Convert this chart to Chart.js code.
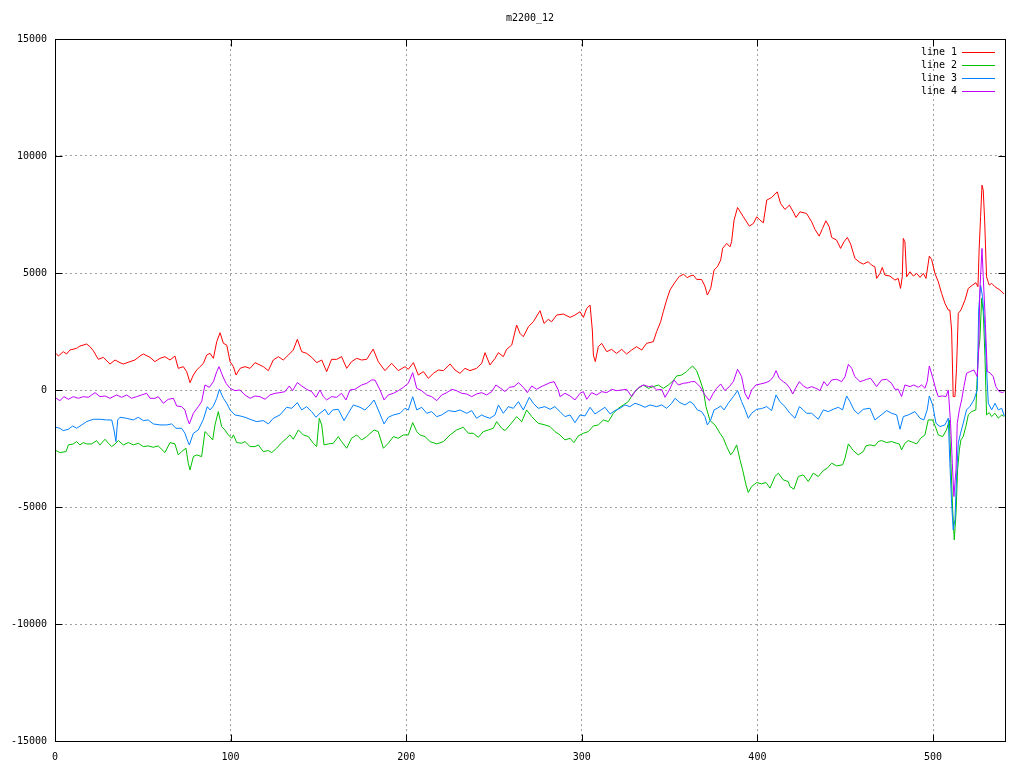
<!DOCTYPE html>
<html>
<head>
<meta charset="utf-8">
<script src="https://cdn.jsdelivr.net/npm/chart.js@4.4.1/dist/chart.umd.min.js"></script>
<style>
  html, body { margin: 0; padding: 0; background: #fff; }
  canvas { display: block; }
</style>
</head>
<body>
<canvas id="plot" width="1024" height="768"></canvas>
<script>
var title = 'm2200_12';
var seriesNames = ['line 1', 'line 2', 'line 3', 'line 4'];
var seriesColors = ['#ff0000', '#00c000', '#0080ff', '#c000ff'];
var xTicks = [0, 100, 200, 300, 400, 500];
var yTicks = [-15000, -10000, -5000, 0, 5000, 10000, 15000];
var xMax = 541;

// values, [x, y]
var line1 = [[0.6,1566],[1.9,1452],[4.7,1637],[6.6,1538],[8.5,1709],[12.3,1780],[14.2,1879],[18,1965],[19.9,1851],[21.8,1680],[24.7,1310],[27.5,1395],[31.3,1111],[34.2,1282],[37,1168],[38.9,1111],[42.7,1211],[45.5,1282],[48.4,1452],[50.3,1538],[54.1,1395],[56.9,1211],[59.8,1353],[62.6,1424],[65.5,1282],[68.3,1452],[70.2,926],[73.1,997],[75,784],[76.9,314],[78.8,641],[80.7,855],[82.6,997],[84.5,1139],[86.4,1495],[88.3,1566],[90.2,1353],[92.1,2064],[94,2448],[95.9,1993],[97.8,1922],[99.7,1211],[101.6,997],[103.1,641],[105.4,926],[108.2,997],[111.1,926],[113.9,1168],[116.7,1068],[118.6,997],[121.5,826],[124.3,1282],[127.2,1424],[130,1282],[132.9,1495],[135.7,1709],[138,2164],[140.5,1637],[143.3,1566],[146.2,1395],[149,1168],[151.9,1282],[154.7,784],[157.5,1310],[160.4,1310],[163.2,1424],[166.1,926],[168.9,1211],[171.8,1353],[174.6,1282],[177.5,1310],[181.2,1750],[184.1,1211],[187.9,826],[191.7,1139],[195.5,826],[199.3,997],[201.2,883],[204.1,1168],[206.9,641],[209.8,784],[212.6,499],[215.5,712],[218.3,855],[221.2,826],[225,1111],[227.8,855],[230.6,712],[233.5,926],[236.3,826],[240.1,926],[243,1139],[244.9,1595],[247.7,1068],[250.6,1353],[252.5,1595],[255.3,1424],[257.2,1737],[260.1,1922],[262.9,2776],[264.8,2420],[266.7,2278],[269.6,2705],[272.4,2918],[276.2,3388],[278.5,2847],[280.9,3018],[282.8,2918],[285.7,3203],[289.5,3246],[293.3,3103],[296.1,3203],[299,3345],[300.9,3103],[302.8,3487],[304.7,3630],[306,2562],[306.6,1495],[307.7,1211],[309.4,1851],[311.3,1993],[314.2,1638],[317,1737],[319.8,1566],[322.7,1737],[325.5,1538],[328.4,1709],[331.2,1851],[334.1,1709],[336.9,1993],[340.7,2064],[342.6,2491],[344.9,2918],[346.4,3345],[348.3,3843],[350.2,4270],[353,4600],[355.5,4850],[358,4950],[360,4800],[361.6,4869],[363.5,4911],[365.4,4726],[368.2,4726],[370.1,4442],[371.5,4058],[373.4,4342],[375.3,5125],[377.2,5267],[379.1,5552],[380.2,6050],[382.5,6263],[384.4,6121],[385.3,6335],[386.7,7259],[388.7,7800],[392,7402],[395.4,7003],[397.7,7117],[399.6,7402],[401.5,7259],[403.4,7146],[405.3,8113],[408.1,8227],[411.3,8469],[413.2,7971],[415.7,7715],[418.2,7900],[420.4,7615],[422,7373],[424.2,7615],[428,7544],[430.9,7188],[432.8,6861],[435.2,6576],[437.1,6904],[439,7231],[440.9,6975],[442.3,6519],[445.1,6406],[447.4,6050],[449.3,6335],[451.2,6519],[453.1,6235],[455.5,5623],[458.4,5450],[460.3,5381],[463.1,5481],[465,5338],[466.9,5267],[467.9,4769],[469.8,4983],[471.1,5239],[472.6,4912],[475.5,4869],[478.3,4698],[480.2,4769],[481.5,4342],[482.5,4840],[483.1,6477],[484,6335],[485,4840],[486.9,5054],[488.8,4869],[490.7,4983],[492.6,4812],[494.5,4983],[496,4769],[497.9,5723],[499.2,5580],[501.1,4983],[503,4627],[504.9,4129],[506.8,3702],[508.7,3417],[509.6,3417],[510.6,2564],[511.5,-282],[512.5,-282],[513.4,927],[514.4,3275],[515.9,3417],[518.2,3844],[520.1,4342],[522.5,4485],[524.4,4584],[525.6,4413],[526.3,6050],[527.1,7402],[527.9,8754],[528.6,8540],[529.4,7260],[530.5,4840],[532,4485],[533.4,4556],[535.3,4413],[538.1,4271],[540.4,4100]];

var line2 = [[0.6,-2589],[2.8,-2674],[6.3,-2632],[7.6,-2347],[10.4,-2304],[12.3,-2205],[14.2,-2347],[16.1,-2247],[18,-2304],[20.9,-2304],[23.7,-2162],[25.6,-2347],[28.5,-2105],[30.4,-2276],[32.3,-2418],[34.2,-2304],[36.1,-2162],[38.9,-2347],[41.8,-2247],[44.6,-2347],[47.4,-2276],[50.3,-2418],[53.1,-2390],[56,-2447],[58.8,-2390],[62.6,-2674],[65.5,-2247],[68.3,-2304],[70.2,-2774],[72.1,-2632],[74.6,-2489],[75.9,-3130],[76.9,-3414],[78.8,-2845],[80.7,-2774],[83.5,-2845],[85.4,-1778],[87.3,-1920],[89.8,-2134],[91.1,-1493],[93,-924],[94.9,-1564],[96.8,-1707],[98.7,-1920],[100.6,-2062],[101.6,-1920],[103.5,-2247],[106.3,-2276],[108.2,-2205],[111.1,-2418],[113.9,-2418],[115.8,-2347],[118.6,-2632],[121.5,-2589],[123.4,-2674],[126.2,-2489],[129.1,-2247],[131.9,-2062],[133.8,-1920],[135.7,-2105],[138.6,-1707],[141.4,-1920],[144.3,-1991],[147.1,-2276],[149,-2418],[150.5,-1209],[151.9,-1493],[153.2,-2347],[155.7,-2304],[158.5,-2276],[161.3,-1991],[163.2,-2205],[166.1,-2489],[168.9,-2062],[171.8,-1920],[174.6,-2134],[177.5,-1991],[181.7,-1707],[184.1,-1778],[187,-2489],[189.8,-2276],[192.7,-1991],[195.5,-2062],[198.4,-1920],[201.2,-1920],[203.7,-1394],[206,-1778],[207.9,-1920],[210.7,-1991],[213.6,-2205],[217.4,-2304],[221.2,-2205],[225,-1920],[228.7,-1707],[232.5,-1593],[235.4,-1849],[238.2,-1849],[241.1,-2020],[243.9,-1778],[246.8,-1707],[249.6,-1636],[251.5,-1351],[254.4,-1636],[256.3,-1735],[259.1,-1493],[262.9,-1138],[265.8,-1351],[268.6,-853],[271.5,-1138],[275.2,-1422],[279,-1493],[281.9,-1564],[284.7,-1778],[287.6,-1920],[290.4,-2134],[293.3,-2062],[295.5,-2247],[298,-1963],[300.9,-1849],[303.7,-1778],[306.6,-1536],[309.4,-1493],[312.3,-1280],[315.1,-1351],[318,-995],[320.8,-782],[323.6,-639],[326.5,-497],[329.3,-141],[332.2,72],[335,214],[337.9,72],[340.7,143],[343.6,214],[346.4,72],[349.3,214],[352.1,399],[354,599],[356.9,641],[359.7,784],[361.6,927],[363.1,1027],[365.4,828],[367.3,429],[369.2,2],[370.7,-709],[373,-1307],[375.8,-1492],[378.7,-1848],[380.6,-2061],[382.5,-2417],[384.8,-2773],[386.3,-2630],[388.2,-2346],[390.1,-2986],[391.6,-3413],[393.5,-4053],[394.8,-4380],[396.7,-4124],[399.6,-3954],[402.4,-4011],[404.9,-3954],[407.2,-4195],[410,-3697],[411.9,-3555],[414.7,-3840],[417.6,-3911],[418.5,-4124],[420.8,-4238],[423.3,-3697],[426.1,-3626],[429,-3911],[431.8,-3555],[434.7,-3697],[437.5,-3441],[439.8,-3342],[442.3,-3129],[445.1,-3242],[448.5,-3200],[449.9,-2915],[451.8,-2303],[454.6,-2588],[457.4,-2773],[460.3,-2630],[461.8,-2388],[464.1,-2346],[466.9,-2388],[468.8,-2203],[470.7,-2161],[473.6,-2246],[476.4,-2203],[479.3,-2275],[480.8,-2303],[482.1,-2559],[484,-2275],[485.9,-2161],[488.8,-2246],[490.7,-2303],[493,-2061],[495.4,-1919],[497.3,-1279],[499.8,-1279],[501.7,-1634],[503,-1919],[505.5,-1990],[507.7,-1705],[509.3,-1279],[510.2,-3128],[511.2,-5121],[512.1,-6401],[513.1,-5263],[514,-3413],[515,-2559],[515.9,-2132],[517.2,-1990],[518.7,-1563],[520.1,-1065],[522,-923],[524.4,-852],[525.8,1639],[526.7,2137],[527.7,3915],[528.6,3346],[529.6,1425],[530.5,-1065],[532,-966],[533.4,-1136],[535.3,-994],[537.2,-1207],[539.1,-1065],[540.6,-1136]];

var line3 = [[0.6,-1593],[2.8,-1636],[4.7,-1735],[7.6,-1678],[10.1,-1536],[12.3,-1636],[15.2,-1493],[18,-1351],[21.8,-1251],[25.6,-1251],[29.4,-1280],[32.3,-1280],[33.6,-1707],[34.7,-2205],[35.7,-1280],[37,-1166],[40.8,-1209],[44.6,-1280],[47.4,-1166],[50.3,-1308],[53.1,-1280],[56,-1450],[59.8,-1493],[63.6,-1493],[66.4,-1450],[68.9,-1636],[72.1,-1636],[74,-1849],[75.3,-2134],[76.5,-2347],[78.8,-1849],[81.6,-1707],[84.5,-1251],[86.7,-711],[88.3,-853],[90.2,-682],[92.1,-355],[93.6,29],[95.9,-355],[97.8,-568],[99.7,-853],[102.5,-1066],[105.4,-1109],[108.2,-1166],[111.1,-1251],[114.8,-1351],[118.6,-1308],[121.5,-1450],[124.3,-1209],[128.1,-1066],[131.9,-739],[134.8,-782],[138,-540],[140.5,-853],[143.3,-711],[146.2,-924],[148.6,-1166],[150.9,-995],[153.8,-825],[155.7,-1066],[158.1,-853],[161.3,-825],[164.6,-1308],[167,-995],[169.9,-639],[173.7,-739],[176.5,-853],[179.4,-639],[181.7,-426],[184.1,-853],[187.4,-1450],[189.8,-1166],[192.7,-1066],[196.5,-995],[199.3,-782],[201.2,-853],[203.7,-284],[206,-853],[208.8,-739],[211.7,-995],[214.5,-924],[217.4,-1138],[220.2,-1066],[224,-881],[227.8,-924],[230.6,-853],[234.4,-995],[237.3,-881],[240.1,-1209],[243,-1066],[244.9,-1138],[247.7,-1209],[250.6,-1066],[252.5,-639],[255.3,-995],[258.2,-711],[261,-782],[263.9,-497],[266.7,-853],[270.1,-312],[272.4,-568],[275.2,-782],[279,-711],[281.9,-824],[284.7,-711],[287.6,-924],[290.4,-1137],[293.3,-1066],[296.1,-1394],[299,-1066],[301.8,-1109],[304.7,-739],[307.5,-1024],[310.4,-881],[313.2,-739],[316.1,-1024],[318.9,-881],[321.7,-782],[324.6,-639],[327.4,-711],[330.3,-568],[333.1,-639],[336,-739],[338.8,-639],[342.6,-711],[345.5,-639],[348.3,-782],[351.2,-568],[353.1,-355],[355.9,-540],[358.8,-639],[361.6,-496],[363.5,-596],[365.8,-852],[368.2,-923],[370.1,-1136],[371.5,-1492],[373.4,-1279],[375.3,-852],[377.2,-781],[379.1,-681],[381,-852],[383.4,-567],[386.3,-283],[388.7,-26],[391,-496],[392.9,-823],[394.8,-1207],[396.7,-994],[399.6,-823],[402.4,-795],[405.3,-709],[408.1,-880],[410.6,-211],[412.8,-496],[415.7,-709],[418.5,-994],[421.4,-1207],[423.9,-709],[426.1,-852],[428,-994],[430.9,-994],[434.7,-1250],[437.5,-852],[440.4,-923],[443.2,-823],[446.1,-738],[448.5,-852],[450.8,-254],[452.7,-496],[455,-852],[457.4,-1022],[460.3,-823],[464.1,-780],[466.9,-1279],[469.8,-1108],[473.6,-880],[476.4,-994],[479.3,-1065],[481.2,-1677],[483.1,-1136],[485.9,-1065],[489.7,-923],[492.6,-1207],[494.8,-1279],[496.7,-852],[497.9,-254],[499.8,-638],[501.7,-1421],[504,-1563],[506.8,-1492],[508.7,-1207],[509.6,-3128],[510.6,-4836],[511.5,-5974],[512.5,-5547],[513.4,-3698],[514.4,-2275],[515.7,-1848],[517.2,-1421],[519.1,-852],[521,-709],[523.3,-425],[525.2,2],[526,3417],[527.1,4485],[528.2,3987],[529.4,2848],[530.5,856],[531.5,-567],[533.4,-852],[535.3,-567],[537.2,-852],[539.1,-780],[540.6,-1108]];

var line4 = [[0.6,-355],[2.8,-454],[5.1,-284],[7.6,-398],[10.4,-284],[13.3,-355],[16.1,-284],[19,-312],[20.9,-213],[22.8,-113],[25.6,-284],[28.5,-255],[31.3,-355],[35.1,-213],[38,-312],[40.8,-213],[43.6,-355],[46.5,-284],[49.3,-213],[52.2,-141],[54.1,-355],[56.9,-355],[58.8,-284],[61.7,-568],[64.5,-398],[67.4,-355],[69.3,-682],[72.1,-711],[74,-853],[75.3,-1209],[76.5,-1450],[78.8,-995],[81.6,-711],[83.5,-497],[85.4,214],[87.9,115],[90.2,357],[92.1,784],[93.4,997],[95.5,599],[97.4,286],[99.7,72],[102.5,-28],[105.4,1],[108.2,-213],[111.1,-355],[113.9,-255],[116.7,-284],[119.6,-398],[122.4,-213],[125.3,-141],[128.1,-113],[131,-70],[133.4,172],[135.3,-28],[138,314],[140.5,172],[143.3,29],[146.2,-70],[148.6,-312],[150.9,1],[152.8,-284],[154.7,-426],[157.5,-284],[160.4,-312],[163.2,-141],[165.7,-426],[168,1],[170.8,29],[174.6,214],[177.5,286],[180.3,428],[182.2,428],[185.1,1],[187.4,-426],[189.8,-213],[192.7,-141],[195.5,-28],[198.4,115],[201.2,286],[203.7,741],[206,72],[208.8,-28],[211.7,-213],[214.5,-284],[217.4,-454],[220.2,-213],[223.1,-113],[225.9,29],[228.7,-28],[231.6,-141],[234.4,-170],[237.3,-284],[240.1,-170],[243,-113],[245.8,-213],[248.7,-70],[251.1,214],[253.8,72],[256.3,-70],[258.7,115],[261.4,143],[263.9,314],[266.7,115],[269,-113],[271.5,172],[274.3,29],[276.2,115],[279,214],[281.9,314],[284.2,357],[286.6,1],[287.6,-284],[290.4,-141],[293.3,-255],[296.1,-426],[299,-141],[300.9,-70],[302.8,-397],[305.6,-113],[308.5,-212],[311.3,-70],[314.2,-113],[317,29],[319.8,-28],[322.7,1],[325.5,29],[328.4,-284],[330.9,1],[333.1,143],[335.4,214],[337.9,143],[340.3,172],[342.6,1],[345.5,29],[347.4,-312],[349.8,1],[352.5,428],[355,214],[357.8,286],[360.7,314],[362.5,358],[364.4,358],[367.3,144],[370.1,-211],[372.6,-453],[374.9,-140],[376.8,73],[379.1,258],[381.5,-26],[384,144],[386.3,358],[388.7,884],[391,571],[392.9,-140],[394.8,-396],[396.7,2],[399.2,216],[401.8,258],[404.9,315],[407.2,401],[409.1,571],[410.6,827],[412.5,500],[414.7,358],[416.6,258],[418.5,73],[420.1,-169],[422,116],[423.9,358],[426.1,173],[428.4,73],[430.9,144],[433.3,73],[435.6,-26],[437.9,358],[439.8,173],[442.3,429],[445.1,457],[448,358],[449.9,571],[451.8,1098],[453.7,927],[455.5,571],[458.4,358],[460.3,400],[462.2,458],[464.5,500],[467.9,145],[470.7,429],[473.6,458],[476.4,287],[478.3,31],[480.2,31],[482.1,-282],[484,216],[486.9,145],[489.1,216],[491.6,116],[493.5,216],[495.4,74],[496.7,358],[497.9,1027],[499.8,543],[501.7,2],[503,-282],[505.5,-254],[507.4,-282],[508.7,2],[510,-1421],[511,-3128],[511.9,-4551],[513.1,-3413],[513.8,-1421],[515,-852],[516.3,-425],[517.6,145],[519.1,714],[521,785],[523.3,856],[525.2,571],[526,1710],[526.7,4271],[527.9,6050],[528.6,4840],[529.6,3275],[530.9,785],[532.4,742],[534.3,571],[535.8,145],[537.7,-69],[539.6,-112],[540.6,-69]];

var allLines = [line1, line2, line3, line4];
var FONT = '10px "DejaVu Sans Mono", monospace';

// gnuplot-like frame, inward ticks, key and title
var gnuFrame = {
  id: 'gnuFrame',
  beforeDatasetsDraw: function(chart) {
    var ctx = chart.ctx, a = chart.chartArea;
    var xs = chart.scales.x, ys = chart.scales.y;
    var L = Math.round(a.left) + 0.5, R = Math.round(a.right) + 0.5;
    var T = Math.round(a.top) + 0.5, B = Math.round(a.bottom) + 0.5;
    ctx.save();
    ctx.strokeStyle = '#000';
    ctx.lineWidth = 1;
    ctx.setLineDash([]);
    ctx.strokeRect(L, T, R - L, B - T);
    ctx.beginPath();
    xTicks.forEach(function(v) {
      var px = Math.round(xs.getPixelForValue(v)) + 0.5;
      ctx.moveTo(px, B); ctx.lineTo(px, B - 7);
      ctx.moveTo(px, T); ctx.lineTo(px, T + 7);
    });
    yTicks.forEach(function(v) {
      var py = Math.round(ys.getPixelForValue(v)) + 0.5;
      ctx.moveTo(L, py); ctx.lineTo(L + 7, py);
      ctx.moveTo(R, py); ctx.lineTo(R - 7, py);
    });
    ctx.stroke();
    ctx.restore();
  },
  afterDraw: function(chart) {
    var ctx = chart.ctx, a = chart.chartArea;
    ctx.save();
    ctx.font = FONT;
    ctx.textBaseline = 'middle';
    ctx.textAlign = 'center';
    ctx.fillStyle = '#000';
    ctx.fillText(title, (a.left + a.right) / 2, 18);
    ctx.textAlign = 'right';
    seriesNames.forEach(function(name, i) {
      var y = 52 + 13 * i;
      ctx.fillStyle = '#000';
      ctx.fillText(name, 957, y);
      ctx.fillStyle = seriesColors[i];
      ctx.fillRect(962, y, 33, 1);
    });
    ctx.restore();
  }
};

var ctx = document.getElementById('plot').getContext('2d');
var chart = new Chart(ctx, {
  type: 'line',
  data: {
    datasets: allLines.map(function(pts, i) {
      return {
        label: seriesNames[i],
        data: pts.map(function(p) { return { x: p[0], y: p[1] }; }),
        borderColor: seriesColors[i],
        borderWidth: 1,
        pointRadius: 0,
        tension: 0,
        fill: false,
        order: allLines.length - i
      };
    })
  },
  options: {
    responsive: false,
    animation: false,
    devicePixelRatio: 1,
    layout: { padding: { top: 39, right: 19, left: 0, bottom: 0 } },
    plugins: { legend: { display: false }, tooltip: { enabled: false } },
    scales: {
      x: {
        type: 'linear',
        min: 0,
        max: xMax,
        afterBuildTicks: function(s) { s.ticks = xTicks.map(function(v) { return { value: v }; }); },
        afterFit: function(s) { s.height = 27; },
        grid: { color: '#a0a0a0', lineWidth: 1, drawTicks: false },
        border: { display: false, dash: [2, 3] },
        ticks: { color: '#000', font: { family: '"DejaVu Sans Mono", monospace', size: 10 }, padding: 10, maxRotation: 0 }
      },
      y: {
        type: 'linear',
        min: -15000,
        max: 15000,
        afterBuildTicks: function(s) { s.ticks = yTicks.map(function(v) { return { value: v }; }); },
        afterFit: function(s) { s.width = 55; },
        grid: { color: '#a0a0a0', lineWidth: 1, drawTicks: false },
        border: { display: false, dash: [2, 3] },
        ticks: { color: '#000', font: { family: '"DejaVu Sans Mono", monospace', size: 10 }, padding: 8,
                 callback: function(v) { return String(v); } }
      }
    }
  },
  plugins: [gnuFrame]
});
</script>
</body>
</html>
